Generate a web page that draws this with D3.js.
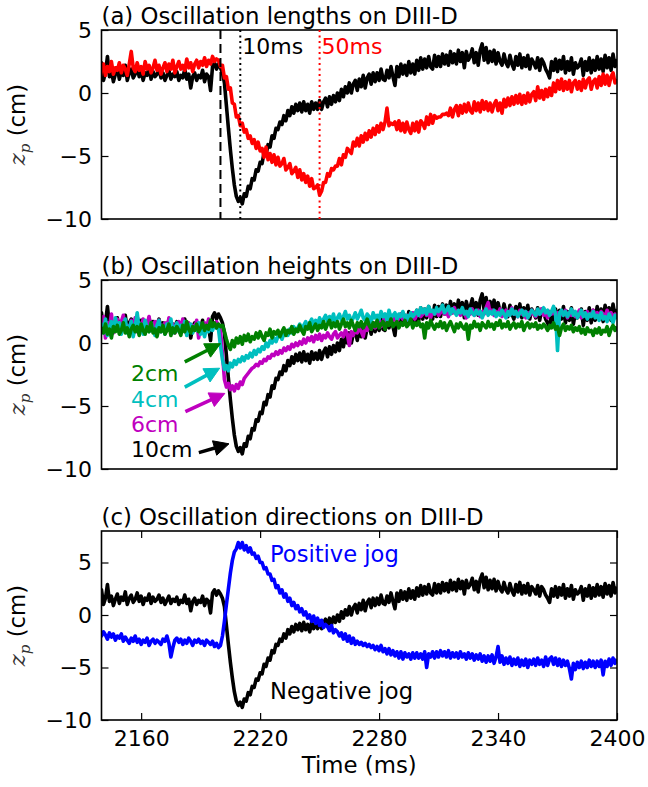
<!DOCTYPE html>
<html><head><meta charset="utf-8">
<script src="https://cdn.jsdelivr.net/npm/d3@7"></script>
<style>
body{margin:0;background:#fff}
svg{display:block}
text{font-family:"DejaVu Sans",sans-serif}
</style>
</head><body>
<svg id="chart" width="648" height="787"></svg>
<script>
// ---------- data (1 ms samples, 2139..2400 ms) ----------
const tStart = 2139, tEnd = 2400;
const time = d3.range(tStart, tEnd + 1);
const xTicks = [2160, 2220, 2280, 2340, 2400];
const yTicksAB = [-10, -5, 0, 5];
const yTicksC = [-10, -5, 0, 5];

// 10 ms / 10 cm / negative jog (black)
const negJog = [
1.2,2.4,1.0,1.6,2.9,1.3,1.8,0.9,1.5,2.0,
1.1,1.7,1.4,2.2,1.0,1.6,1.9,1.2,1.5,2.1,
1.3,1.8,1.0,1.6,1.4,2.0,1.1,1.7,1.3,1.5,
1.9,1.2,1.6,1.0,1.4,1.8,1.1,1.5,1.3,1.7,
1.0,1.4,1.2,1.9,1.1,1.5,0.4,1.3,1.6,1.0,
1.4,1.2,1.8,0.9,1.5,1.3,0.2,2.1,2.4,1.9,
2.3,2.0,1.6,0.8,-1.0,-2.8,-4.5,-6.0,-7.3,-8.2,
-8.6,-8.3,-8.8,-8.0,-8.2,-7.4,-7.6,-6.8,-6.9,-6.1,
-6.2,-5.5,-5.6,-4.7,-4.9,-4.1,-4.3,-3.4,-3.6,-2.8,
-2.9,-2.3,-2.5,-1.8,-2.2,-1.4,-1.8,-1.1,-1.6,-0.9,
-1.4,-0.8,-1.5,-0.7,-1.4,-0.9,-1.6,-0.7,-1.3,-0.8,
-1.3,-0.6,-1.3,-0.7,-0.4,-1.1,-0.3,-0.9,-0.2,-0.7,
0.0,-0.6,0.3,-0.3,0.5,0.0,0.8,0.0,0.7,1.0,
0.2,1.1,0.5,1.4,0.4,1.2,1.5,0.7,1.6,0.9,
1.6,1.0,1.9,1.1,1.0,1.8,1.2,2.1,1.3,0.6,
2.1,1.3,2.3,1.5,2.2,1.4,2.5,1.6,2.3,1.5,
2.6,1.8,2.8,1.9,2.7,2.0,2.9,2.1,1.9,3.0,
2.1,2.9,2.1,3.1,2.3,3.0,2.2,3.3,2.4,3.1,
2.3,3.4,2.5,3.2,2.0,3.3,2.6,2.9,3.5,2.4,
3.2,2.2,3.4,3.9,2.6,3.6,2.4,3.3,2.5,3.4,
2.3,3.2,2.5,2.2,3.1,2.4,2.1,3.0,2.3,1.9,
2.9,2.2,3.1,2.0,2.8,2.1,3.0,1.9,2.7,2.4,
2.0,2.8,1.8,2.7,2.4,1.9,1.6,1.2,2.5,1.8,
2.7,1.7,2.6,1.9,2.9,1.6,2.5,1.8,2.8,1.5,
2.4,2.0,2.2,2.7,1.4,2.5,1.8,2.8,1.6,2.6,
1.8,2.9,1.9,2.7,1.7,3.0,2.0,2.8,1.8,3.1,
2.1,2.7];

// 50 ms (red)
const len50 = [
1.0,1.8,2.3,1.4,2.1,1.7,2.5,1.5,2.0,1.8,
2.4,1.6,2.2,1.9,1.4,2.3,3.3,2.0,1.7,2.4,
1.8,2.1,1.5,2.5,1.9,2.2,1.6,2.0,2.6,1.8,
2.2,1.5,2.0,2.4,1.7,2.3,1.9,2.6,1.6,2.1,
2.5,1.9,2.2,1.8,2.7,2.0,2.4,1.7,2.3,2.6,
2.0,2.5,2.2,2.8,2.1,2.6,2.3,2.9,2.5,2.7,
2.6,2.1,2.2,1.2,1.3,0.3,0.4,-0.8,-0.9,-1.9,
-1.8,-2.6,-2.4,-3.1,-2.9,-3.6,-3.4,-4.0,-3.7,-4.4,
-3.9,-4.6,-4.4,-5.1,-4.3,-5.3,-4.8,-5.5,-4.9,-5.7,
-5.1,-5.8,-5.6,-5.2,-6.1,-5.9,-5.6,-6.4,-6.2,-5.9,
-6.7,-6.1,-6.9,-6.4,-7.1,-6.6,-7.4,-6.8,-7.6,-7.5,
-7.3,-8.1,-7.8,-7.1,-7.1,-6.4,-6.6,-6.0,-6.1,-5.8,
-5.8,-5.2,-5.7,-4.9,-5.1,-4.4,-4.6,-4.8,-3.9,-4.2,
-3.6,-4.2,-3.4,-3.9,-3.2,-3.7,-3.0,-3.5,-2.8,-3.3,
-2.6,-3.1,-2.4,-2.9,-2.3,-1.2,-2.6,-2.4,-2.5,-2.3,
-2.9,-2.2,-3.0,-2.4,-3.1,-2.3,-2.9,-3.2,-2.4,-3.0,
-2.3,-3.1,-2.2,-2.4,-2.8,-1.9,-2.5,-1.7,-2.4,-1.8,
-2.0,-1.9,-1.9,-1.7,-1.7,-1.6,-1.8,-1.2,-1.9,-1.3,
-1.0,-1.8,-1.0,-1.6,-0.9,-1.5,-0.8,-1.4,-1.6,-0.7,
-1.4,-0.8,-1.5,-0.6,-1.3,-0.7,-1.4,-0.8,-1.5,-0.9,
-0.6,-1.4,-0.8,-1.6,-0.5,-1.1,-0.4,-1.0,-0.3,-0.9,
-0.2,-0.8,-0.1,-0.9,-0.2,-0.8,0.0,-0.7,-0.1,0.1,
-0.6,0.5,-0.4,0.2,-0.5,0.3,-0.3,0.4,-0.2,0.8,
0.1,1.0,0.3,1.1,0.2,0.9,0.3,1.0,0.1,0.8,
1.0,0.3,0.9,0.2,1.1,0.4,1.0,1.2,0.3,0.9,
1.1,0.4,1.3,0.6,1.5,0.7,1.4,0.6,1.3,1.6,
0.8,1.1];

// 2 cm (green)
const h2 = [
0.6,1.2,0.8,1.5,0.7,1.1,0.4,1.3,0.9,1.4,
0.7,1.0,1.6,0.8,1.2,0.5,1.1,1.4,0.9,1.3,
0.6,1.5,1.0,0.7,1.3,0.9,1.6,0.8,1.1,0.5,
1.2,0.9,1.4,0.7,1.0,1.5,0.6,1.2,0.8,1.3,
1.0,0.6,1.4,0.9,1.7,1.1,0.8,1.3,1.0,1.5,
0.9,1.2,1.6,1.0,1.4,1.1,1.8,1.3,1.6,1.2,
1.5,1.3,1.4,0.9,0.3,-0.2,-0.5,0.2,-0.3,0.4,
0.0,0.5,-0.1,0.6,0.2,0.7,0.1,0.5,0.3,0.8,
0.4,0.9,0.5,0.2,0.8,0.6,1.1,0.4,0.9,0.7,
1.0,0.5,0.9,1.2,0.6,1.0,0.8,1.3,0.7,1.1,
0.9,1.4,1.0,0.7,1.3,1.1,1.6,0.9,1.2,1.5,
1.0,1.4,1.2,1.7,1.1,1.5,1.8,1.2,1.6,1.3,
1.7,1.1,1.5,1.9,1.3,1.6,1.2,1.8,1.4,1.0,
1.6,1.3,1.7,1.2,1.5,1.9,1.4,1.1,1.6,1.3,
1.8,1.2,1.5,1.7,1.1,1.6,1.4,1.9,1.3,1.5,
1.7,1.2,1.6,1.4,1.8,1.3,1.5,1.9,1.2,1.6,
1.4,1.7,1.3,1.5,0.4,1.6,1.2,1.8,1.4,1.1,
1.5,1.3,1.7,1.2,1.6,1.0,1.4,1.7,1.3,0.9,
1.5,1.2,1.6,1.3,1.1,1.5,0.3,1.4,1.2,1.7,
1.3,1.5,1.0,1.6,1.4,1.2,1.7,1.3,1.5,1.1,
1.6,1.4,1.8,1.2,1.5,1.3,1.7,1.1,1.4,1.6,
1.2,1.5,1.3,1.7,1.0,1.4,1.6,1.2,1.5,1.3,
1.6,1.1,1.4,1.2,1.5,1.3,1.0,1.4,1.2,1.6,
1.1,1.3,0.6,1.2,1.5,1.0,1.3,1.1,1.4,0.9,
1.2,1.0,1.3,0.8,1.1,0.7,1.2,0.9,1.0,0.6,
1.1,0.8,1.2,0.7,1.0,0.9,1.3,0.6,1.1,1.4,
1.0,1.3];

// 4 cm (cyan)
const h4 = [
0.3,1.5,0.8,1.9,0.6,1.3,1.7,0.9,2.0,1.1,
1.6,0.7,1.4,1.9,0.8,1.2,1.7,0.5,1.3,2.4,
1.0,1.5,0.7,1.8,1.2,0.9,1.6,1.1,0.6,1.4,
1.8,0.9,1.3,0.7,1.5,1.1,1.9,0.8,1.2,1.6,
0.9,1.4,1.0,1.7,0.6,1.2,1.5,0.8,1.3,1.0,
1.6,0.7,1.1,0.5,1.3,0.9,1.4,1.0,1.5,1.2,
1.1,-0.2,-1.3,-2.1,-1.8,-2.2,-1.6,-1.9,-1.4,-1.7,
-1.3,-1.5,-1.1,-1.4,-1.0,-1.2,-0.8,-1.1,-0.6,-0.9,
-0.5,-0.7,-0.3,-0.5,0.0,-0.3,0.2,0.0,0.4,0.1,
0.5,0.8,0.3,0.7,1.0,0.6,1.1,0.8,1.3,0.9,
1.2,1.5,1.0,1.4,1.7,1.2,1.6,1.9,1.4,1.8,
1.5,2.0,1.6,1.9,2.2,1.7,2.1,1.8,2.3,1.6,
2.0,2.3,1.8,2.1,2.5,1.9,2.2,1.7,2.0,2.4,
1.9,2.2,2.6,2.0,1.8,2.3,2.1,1.6,2.4,2.0,
2.2,1.9,2.5,2.1,2.3,1.8,2.6,2.0,2.2,2.4,
1.9,2.3,2.1,2.5,2.0,2.2,1.8,2.4,2.1,2.3,
2.6,2.2,2.8,2.4,2.7,2.3,2.9,2.5,2.6,2.3,
2.8,2.5,2.7,3.0,2.4,2.6,2.9,2.3,2.7,2.5,
2.2,2.6,2.4,2.8,2.3,2.5,2.1,2.7,2.4,2.2,
2.6,2.3,2.5,2.0,2.4,2.7,2.2,2.5,2.3,2.6,
2.1,2.4,2.2,2.6,2.3,2.0,2.5,2.2,2.7,2.3,
2.5,2.1,2.4,2.6,2.2,2.5,2.0,2.3,2.6,2.4,
2.2,2.7,2.3,2.5,2.8,2.4,2.6,2.2,2.5,2.9,
2.3,-0.6,2.4,2.6,2.2,2.5,2.1,2.4,2.7,2.2,
2.5,2.0,2.3,2.6,2.1,2.4,1.9,2.3,2.1,2.5,
2.0,2.2,1.8,2.4,1.9,2.1,1.7,2.3,2.0,1.6,
2.2,1.9];

// 6 cm (magenta)
const h6 = [
1.8,0.9,2.1,0.4,1.6,1.2,2.3,0.8,1.5,1.9,
1.0,1.7,2.2,1.1,1.4,0.7,1.8,1.3,2.0,0.9,
1.6,1.2,1.9,0.8,1.5,2.1,1.0,1.4,1.7,1.1,
1.8,0.9,1.3,1.6,1.0,2.0,1.2,1.5,0.8,1.4,
1.7,1.1,1.9,1.3,0.7,1.6,1.0,1.4,1.2,1.8,
0.4,1.3,1.0,1.6,1.2,1.9,1.1,1.5,1.3,1.7,
1.4,1.0,-0.8,-2.9,-3.5,-3.2,-3.7,-3.4,-3.8,-3.3,
-3.6,-3.1,-3.3,-2.8,-2.6,-2.4,-2.2,-2.0,-1.9,-1.7,
-1.8,-1.5,-1.6,-1.3,-1.4,-1.1,-1.2,-0.9,-1.0,-0.7,
-0.9,-0.6,-0.8,-0.4,-0.6,-0.3,-0.5,-0.1,-0.3,0.0,
-0.2,0.1,-0.1,0.3,0.0,0.4,0.2,0.5,0.1,0.6,
0.3,0.7,0.2,0.6,0.4,0.8,0.5,0.3,0.7,0.9,
0.4,0.6,0.8,0.5,1.0,0.7,-0.2,0.9,0.6,1.1,
0.8,1.2,0.9,0.5,1.3,1.0,1.4,1.1,1.6,1.2,
1.5,1.8,1.3,1.7,2.0,1.6,1.9,2.2,1.8,2.1,
1.7,2.0,2.3,1.9,2.1,1.8,2.2,2.0,2.4,1.9,
2.2,2.5,2.1,2.3,2.6,2.2,2.4,2.0,2.5,2.3,
2.6,2.2,2.4,2.7,2.3,2.5,2.1,2.6,2.4,2.8,
2.3,2.5,2.2,2.6,2.4,2.0,2.5,2.3,2.7,2.2,
2.4,2.6,2.1,2.5,2.3,2.8,3.2,2.4,2.6,2.2,
2.5,2.3,2.7,2.1,2.4,2.6,2.2,2.5,2.8,2.3,
2.4,2.1,2.6,2.3,2.5,2.0,2.4,2.2,2.6,2.3,
2.1,2.5,2.3,2.7,2.2,2.4,2.0,2.5,2.3,2.6,
2.2,2.4,2.1,2.5,2.3,2.6,2.0,2.4,2.2,2.5,
2.1,2.3,2.6,2.0,2.4,2.2,2.5,2.1,2.3,2.6,
2.2,2.4,2.0,2.5,2.3,2.1,2.6,2.2,2.4,2.0,
2.3,2.1];

// positive jog (blue)
const posJog = [
-1.5,-2.0,-1.6,-1.9,-2.3,-1.7,-2.1,-1.8,-2.4,-2.0,
-2.2,-1.8,-2.5,-2.1,-2.4,-2.7,-2.2,-2.5,-2.0,-2.6,
-2.3,-2.8,-2.4,-2.6,-2.2,-2.9,-2.5,-2.3,-2.7,-2.4,
-2.6,-2.8,-2.3,-2.5,-2.0,-2.7,-4.0,-3.1,-2.4,-2.2,
-2.6,-2.3,-2.8,-2.4,-2.7,-2.2,-2.5,-2.9,-2.4,-2.6,
-2.3,-2.7,-2.5,-2.9,-2.4,-2.6,-2.8,-2.5,-3.0,-2.7,
-3.1,-2.9,-2.0,-0.6,1.0,2.5,4.0,5.2,6.0,6.3,
6.9,6.4,6.9,6.2,6.6,6.0,6.4,5.8,5.9,5.4,
5.6,5.0,5.0,4.4,4.5,3.9,3.9,3.3,3.4,2.6,
2.8,2.1,2.4,1.7,2.0,1.3,1.6,0.9,1.2,0.6,
0.9,0.3,0.6,0.0,0.3,-0.3,0.0,-0.6,-0.1,-0.8,
-0.3,-1.0,-0.5,-1.2,-0.9,-1.1,-1.5,-1.0,-1.7,-1.4,
-1.6,-2.0,-1.7,-2.3,-1.8,-2.5,-2.0,-2.7,-2.2,-2.8,
-2.5,-2.8,-2.6,-2.9,-2.7,-3.0,-2.8,-3.1,-2.9,-3.3,
-3.0,-3.4,-2.9,-3.5,-3.2,-3.7,-3.2,-3.8,-3.4,-3.9,
-3.5,-4.1,-3.5,-4.2,-3.6,-4.0,-3.7,-4.2,-3.6,-4.1,
-3.6,-4.1,-3.7,-4.2,-3.5,-5.0,-3.7,-4.0,-3.5,-4.1,
-3.5,-4.0,-3.4,-3.9,-3.5,-4.0,-3.4,-4.1,-3.6,-4.0,
-3.6,-4.1,-3.5,-4.0,-3.7,-4.2,-3.6,-4.1,-3.7,-4.3,
-3.8,-4.2,-3.7,-4.4,-3.9,-4.5,-3.9,-4.4,-3.8,-4.6,
-4.0,-3.0,-4.5,-3.9,-4.7,-4.1,-4.6,-4.0,-4.8,-4.2,
-4.7,-4.1,-4.9,-4.3,-4.8,-4.2,-5.0,-4.3,-4.7,-4.2,
-4.8,-4.1,-4.7,-4.3,-4.9,-4.0,-4.8,-4.2,-4.0,-4.7,
-4.1,-4.8,-4.2,-4.9,-4.3,-4.8,-4.4,-5.1,-6.1,-4.6,
-5.2,-4.5,-5.0,-4.4,-5.1,-4.5,-5.0,-4.3,-4.9,-4.4,
-5.0,-4.4,-4.9,-4.3,-5.7,-4.4,-4.9,-4.2,-4.8,-4.1,
-4.6,-4.2];

// vertical markers in (a): time (ms)
const markTimes = [2200, 2210, 2250];
// arrows in (b): [tailTime, tailZ, tipTime, tipZ]
const arrowData = [
  [2182.0, -1.5, 2200.0, -0.05],
  [2182.0, -3.5, 2199.6, -2.0],
  [2182.3, -5.45, 2202.2, -4.0],
  [2189.1, -8.7, 2204.3, -8.0]
];
const arrowLabels = ["2cm", "4cm", "6cm", "10cm"];

// ---------- drawing ----------
const svg = d3.select("#chart");
const left = 101.5, right = 617, ph = 189;
const FS = 22, FT = 22.8, FJ = 22.6;
const x = d3.scaleLinear().domain([2140, 2400]).range([left, right]);

const C = {k:"#000000", r:"#ff0000", g:"#008000", c:"#00bfbf", m:"#bf00bf", b:"#0000ff"};

const panels = [
  {id:"a", top:30, domain:[-10,5], ticks:yTicksAB, title:"(a) Oscillation lengths on DIII-D",
   series:[[negJog,C.k],[len50,C.r]], xaxis:false},
  {id:"b", top:280, domain:[-10,5], ticks:yTicksAB, title:"(b) Oscillation heights on DIII-D",
   series:[[negJog,C.k],[h6,C.m],[h4,C.c],[h2,C.g]], xaxis:false},
  {id:"c", top:531, domain:[-10,8], ticks:yTicksC, title:"(c) Oscillation directions on DIII-D",
   series:[[negJog,C.k],[posJog,C.b]], xaxis:true}
];

const defs = svg.append("defs");

panels.forEach(p => {
  const bottom = p.top + ph;
  const y = d3.scaleLinear().domain(p.domain).range([bottom, p.top]);
  p.y = y;
  const g = svg.append("g");

  defs.append("clipPath").attr("id","clip-"+p.id)
    .append("rect").attr("x",left).attr("y",p.top).attr("width",right-left).attr("height",ph);

  const plot = g.append("g").attr("clip-path","url(#clip-"+p.id+")");
  const line = d3.line().x((d,i)=>x(time[i])).y(d=>y(d));
  p.series.forEach(([vals,col]) => {
    plot.append("path").datum(vals).attr("d",line)
      .attr("fill","none").attr("stroke",col).attr("stroke-width",3.6)
      .attr("stroke-linejoin","round");
  });

  // left axis
  const ax = g.append("g").attr("transform",`translate(${left},0)`)
    .call(d3.axisLeft(y).tickValues(p.ticks).tickSize(-7).tickPadding(9.5));
  ax.select(".domain").remove();
  ax.selectAll("line").attr("stroke","#000").attr("stroke-width",1.2);
  ax.selectAll("text").attr("font-size",FS).attr("font-family","DejaVu Sans").attr("fill","#000").attr("dy","0.34em");

  const axr = g.append("g").attr("transform",`translate(${right},0)`)
    .call(d3.axisRight(y).tickValues(p.ticks).tickSize(-7).tickFormat(""));
  axr.select(".domain").remove();
  axr.selectAll("line").attr("stroke","#000").attr("stroke-width",1.2);

  if (p.xaxis) {
    const axb = g.append("g").attr("transform",`translate(0,${bottom})`)
      .call(d3.axisBottom(x).tickValues(xTicks).tickSize(-7).tickFormat(d3.format("d")));
    axb.select(".domain").remove();
    axb.selectAll("line").attr("stroke","#000").attr("stroke-width",1.2);
    axb.selectAll("text").attr("font-size",FS).attr("font-family","DejaVu Sans").attr("fill","#000")
      .attr("y",26).attr("dy",0);
    const axt = g.append("g").attr("transform",`translate(0,${p.top})`)
      .call(d3.axisTop(x).tickValues(xTicks).tickSize(-7).tickFormat(""));
    axt.select(".domain").remove();
    axt.selectAll("line").attr("stroke","#000").attr("stroke-width",1.2);
  }

  // frame
  g.append("rect").attr("x",left).attr("y",p.top).attr("width",right-left).attr("height",ph)
    .attr("fill","none").attr("stroke","#000").attr("stroke-width",1.6);

  // title
  g.append("text").attr("x",left).attr("y",p.top-6.5).attr("font-size",FT).attr("fill","#000").text(p.title);

  // y label
  const yl = g.append("text").attr("transform",`translate(25,${(p.top+bottom)/2}) rotate(-90)`)
    .attr("text-anchor","middle").attr("font-size",FT).attr("fill","#000");
  yl.append("tspan").attr("font-family","DejaVu Serif").attr("font-style","italic").attr("fill","#333").text("z");
  yl.append("tspan").attr("font-family","DejaVu Serif").attr("font-style","italic").attr("font-size",15).attr("fill","#333").attr("dy",5).text("p");
  yl.append("tspan").attr("dy",-5).text(" (cm)");
});

// ---- panel (a) markers ----
const pa = panels[0];
const markStyles = [["#000","9,5"],["#000","2,3.5"],["#ff0000","2,3.5"]];
markTimes.forEach((t,i) => {
  svg.append("line").attr("x1",x(t)).attr("x2",x(t)).attr("y1",pa.top).attr("y2",pa.top+ph)
    .attr("stroke",markStyles[i][0]).attr("stroke-width",2).attr("stroke-dasharray",markStyles[i][1]);
});
svg.append("text").attr("x",x(markTimes[1])+2).attr("y",pa.top+23.5).attr("font-size",FS).attr("fill","#000").text("10ms");
svg.append("text").attr("x",x(markTimes[2])+2).attr("y",pa.top+23.5).attr("font-size",FS).attr("fill","#ff0000").text("50ms");

// ---- panel (b) arrows ----
const pb = panels[1];
const arrowCols = [C.g, C.c, C.m, C.k];
const labelY = [380.7, 406.7, 432.3, 456.7];
arrowData.forEach((a,i) => {
  const x1 = x(a[0]), y1 = pb.y(a[1]), x2 = x(a[2]), y2 = pb.y(a[3]);
  const dx = x2-x1, dy = y2-y1, L = Math.hypot(dx,dy), ux = dx/L, uy = dy/L;
  const hl = 15, hw = 7.5;
  const bx = x2 - ux*hl, by = y2 - uy*hl;
  svg.append("line").attr("x1",x1).attr("y1",y1).attr("x2",bx+ux*2).attr("y2",by+uy*2)
    .attr("stroke",arrowCols[i]).attr("stroke-width",3.5);
  svg.append("polygon")
    .attr("points",[[x2,y2],[bx-uy*hw,by+ux*hw],[bx+uy*hw,by-ux*hw]].map(q=>q.join(",")).join(" "))
    .attr("fill",arrowCols[i]).attr("stroke",arrowCols[i]).attr("stroke-width",1);
  svg.append("text").attr("x",131).attr("y",labelY[i]).attr("font-size",FS).attr("fill",arrowCols[i]).text(arrowLabels[i]);
});

// ---- panel (c) labels ----
svg.append("text").attr("x",270).attr("y",562.3).attr("font-size",FJ).attr("fill",C.b).text("Positive jog");
svg.append("text").attr("x",270).attr("y",699).attr("font-size",FJ).attr("fill",C.k).text("Negative jog");

// x label
svg.append("text").attr("x",(left+right)/2).attr("y",773).attr("text-anchor","middle").attr("font-size",FT).attr("fill","#000").text("Time (ms)");
</script>
</body></html>
